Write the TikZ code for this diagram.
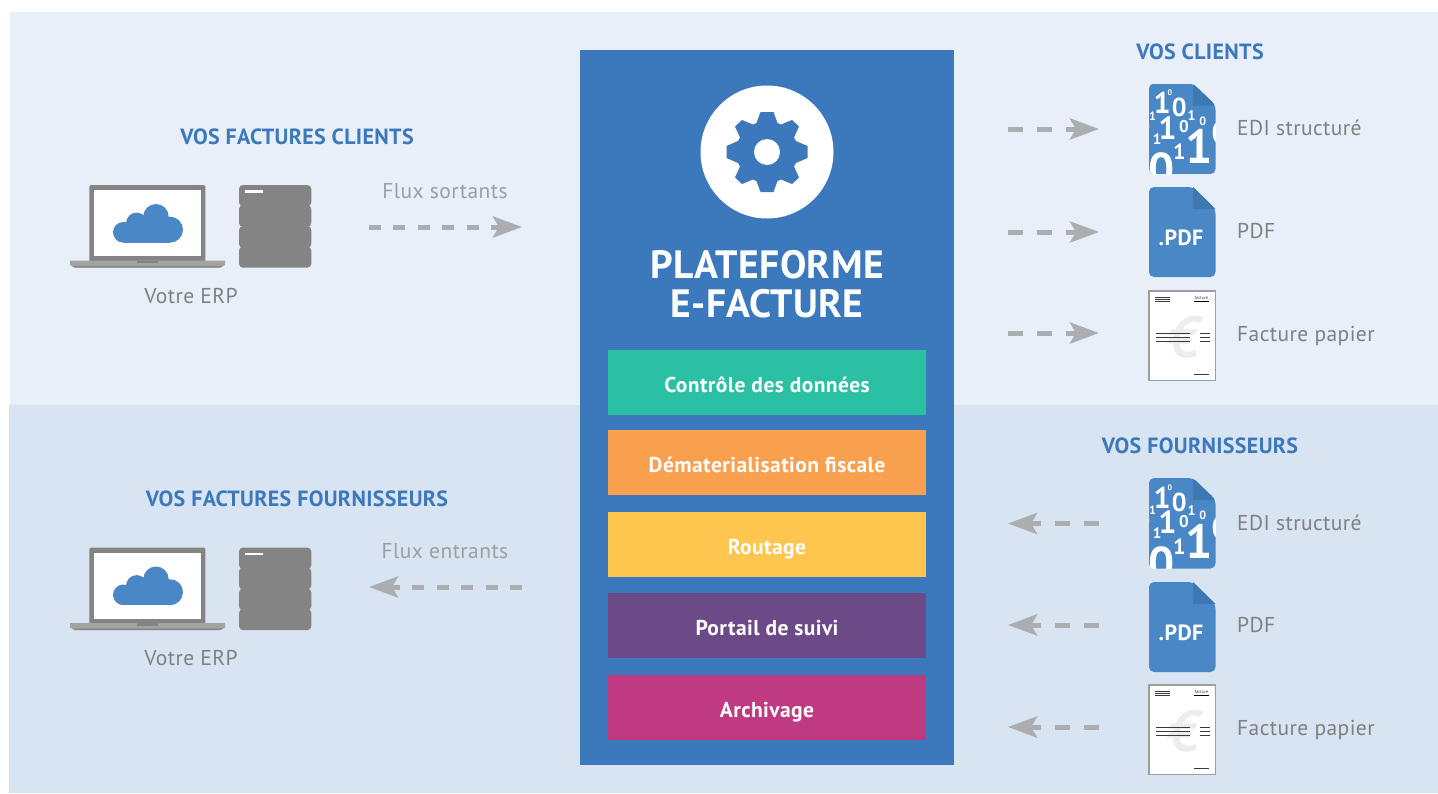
\documentclass[tikz,border=0pt]{standalone}
\usepackage{fontspec}
\setmainfont{PT Sans}
\usetikzlibrary{arrows.meta}
\definecolor{bgtop}{HTML}{E8EFF8}
\definecolor{bgbot}{HTML}{D8E4F2}
\definecolor{plat}{HTML}{3C78BC}
\definecolor{icon}{HTML}{4A87C6}
\definecolor{fold}{HTML}{3D78B2}
\definecolor{head}{HTML}{3C78BC}
\definecolor{lab}{HTML}{7F8080}
\definecolor{flux}{HTML}{9C9EA0}
\definecolor{arrowc}{HTML}{ABADB0}
\definecolor{srv}{HTML}{848484}
\definecolor{lapbase}{HTML}{A3A3A1}
\definecolor{doctxt}{HTML}{3A3A3A}
\definecolor{mteal}{HTML}{2BBFA3}
\definecolor{morange}{HTML}{F9A04F}
\definecolor{myellow}{HTML}{FFC64F}
\definecolor{mpurple}{HTML}{6B4A87}
\definecolor{mmagenta}{HTML}{C03A82}
\tikzset{
 heading/.style={text=head,font=\fontsize{22}{24}\selectfont\bfseries\addfontfeatures{LetterSpace=1.5},inner sep=0pt},
 label/.style={text=lab,font=\fontsize{21.5}{24}\selectfont\addfontfeatures{LetterSpace=2},inner sep=0pt},
 fluxlab/.style={text=flux,font=\fontsize{21.5}{24}\selectfont\addfontfeatures{LetterSpace=2},inner sep=0pt},
 module/.style={minimum width=318pt,minimum height=65pt,inner sep=0pt,text height=19pt,text depth=0pt,text=white,font=\fontsize{21.5}{24}\selectfont\bfseries\addfontfeatures{LetterSpace=2}},
 longflow/.style={draw=arrowc,line width=5pt,dash pattern=on 12pt off 12.4pt,-{Stealth[length=29pt,width=21pt,inset=6pt]}},
 shortflow/.style={draw=arrowc,line width=5pt,dash pattern=on 15pt off 14pt,-{Stealth[length=29pt,width=21pt,inset=6pt]}},
}
\newcommand{\laptopsrv}[2]{%
 \begin{scope}[shift={(#1,#2)}]
  \fill[srv,rounded corners=1.5pt] (29.3,15) rectangle (145.3,92);
  \fill[white] (34,20) rectangle (141,86);
  \fill[lapbase] (10,90.7) -- (165,90.7) -- (165,95) -- (160,97.5) -- (15,97.5) -- (10,95) -- cycle;
  \fill[srv] (76.7,90.7) rectangle (97.7,93);
  \fill[srv!85!lapbase] (11.5,95.8) -- (163.5,95.8) -- (160,97.5) -- (15,97.5) -- cycle;
  \fill[icon] (63.3,62.3) circle (10.3pt) (76.7,53.3) circle (10.7pt) (96,46.7) circle (12.7pt) (110,59.7) circle (13pt);
  \fill[icon] (63.3,52) rectangle (110,72.7);
  \fill[srv,rounded corners=4pt] (179,15) rectangle (251.3,36.5);
  \fill[srv,rounded corners=4pt] (179,35) rectangle (251.3,57);
  \fill[srv,rounded corners=4pt] (179,56) rectangle (251.3,78);
  \fill[srv,rounded corners=4pt] (179,76.5) rectangle (251.3,97.7);
  \fill[white] (185,20) rectangle (202.5,22.5);
 \end{scope}}
\newcommand{\edidoc}[2]{%
 \begin{scope}[shift={(#1,#2)}]
  \begin{scope}
   \clip[rounded corners=5pt] (1149,83.5) -- (1193,83.5) -- (1215.5,105) -- (1215.5,174) -- (1149,174) -- cycle;
   \fill[icon] (1149,83.5) rectangle (1216,174);
   \fill[fold] (1193,83.5) -- (1216,105.5) -- (1193,105.5) -- cycle;
   \foreach \x/\y/\s/\t in {1162/103.3/30/1,1170/93/8/0,1179.3/107.7/26/0,1152.5/116/12/1,1191.7/115.7/14/1,1184/126.7/17/0,1202.7/121/12/0,1167.5/127.7/32/1,1145.5/126.7/16/0,1157/139/15/1,1220/133/30/0,1179.3/151.7/22/1,1199/146.7/48/1,1161.7/169/46/0}
    \node[inner sep=0pt,text=white,font=\fontsize{\s}{\s}\selectfont\bfseries] at (\x,\y) {\t};
  \end{scope}
 \end{scope}}
\newcommand{\pdfdoc}[2]{%
 \begin{scope}[shift={(#1,#2)}]
  \fill[icon,rounded corners=5pt] (1149,187) -- (1193,187) -- (1215.5,209) -- (1215.5,277) -- (1149,277) -- cycle;
  \fill[fold] (1193,187) -- (1215.5,209) -- (1193,209) -- cycle;
  \node[inner sep=0pt,text=white,font=\fontsize{22}{22}\selectfont\bfseries\addfontfeatures{LetterSpace=2}] at (1181,237.5) {.PDF};
 \end{scope}}
\newcommand{\paperdoc}[2]{%
 \begin{scope}[shift={(#1,#2)}]
  \filldraw[fill=white,draw=flux,line width=1.2pt] (1149,291) rectangle (1215.3,380.5);
  \node[inner sep=0pt,text=black!7,font=\fontsize{58}{58}\selectfont\bfseries\itshape] at (1183.5,337.5) {€};
  \draw[doctxt,line width=.8pt]
    (1155,297.3) -- (1170,297.3) (1155,299.3) -- (1170,299.3) (1155,301.3) -- (1170,301.3)
    (1156,333.3) -- (1190,333.3) (1156,337.3) -- (1190,337.3) (1156,341.3) -- (1190,341.3)
    (1200,333.3) -- (1210,333.3) (1200,337.3) -- (1210,337.3) (1200,341.3) -- (1210,341.3)
    (1194,374) -- (1209,374);
  \draw[black,line width=.8pt] (1194,301.3) -- (1209,301.3);
  \node[inner sep=0pt,text=doctxt,font=\fontsize{4.5}{5}\selectfont] at (1201.5,298) {facture};
 \end{scope}}
\begin{document}
\begin{tikzpicture}[x=1pt,y=-1pt]
\useasboundingbox (0,0) rectangle (1438,793);
\fill[white] (0,0) rectangle (1438,793);
\fill[bgtop] (10,12) rectangle (1438,405);
\fill[bgbot] (9,405) rectangle (1438,793);
% platform
\node[fill=plat,minimum width=374pt,minimum height=715pt,inner sep=0pt] (platform) at (767,407.5) {};
\fill[white] (767,152) circle (66.5pt);
\begin{scope}[shift={(767,152)}]
 \fill[plat] (-6.5,-40) -- (6.5,-40) -- (10.5,-29) -- (14,-27.5) -- (25,-32) -- (32,-25.5) -- (27,-14.5) -- (29,-11) -- (40.5,-6) -- (40.5,6) -- (29,11) -- (27,14.5) -- (32,25.5) -- (25,32) -- (14,27.5) -- (10.5,29) -- (6.5,40) -- (-6.5,40) -- (-10.5,29) -- (-14,27.5) -- (-25,32) -- (-32,25.5) -- (-27,14.5) -- (-29,11) -- (-40.5,6) -- (-40.5,-6) -- (-29,-11) -- (-27,-14.5) -- (-32,-25.5) -- (-25,-32) -- (-14,-27.5) -- (-10.5,-29) -- cycle;
 \fill[white] (0,0) circle (13pt);
\end{scope}
\node[inner sep=0pt,text=white,align=center,font=\fontsize{39.5}{38.5}\selectfont\bfseries\addfontfeatures{LetterSpace=1}] (title) at (767,284) {PLATEFORME\\E-FACTURE};
\node[module,fill=mteal] (m1) at (767,382.5) {Contrôle des données};
\node[module,fill=morange] (m2) at (767,462.5) {Dématerialisation fiscale};
\node[module,fill=myellow] (m3) at (767,544.5) {Routage};
\node[module,fill=mpurple] (m4) at (767,625.5) {Portail de suivi};
\node[module,fill=mmagenta] (m5) at (767,707.5) {Archivage};
% left
\laptopsrv{60}{170}
\laptopsrv{60}{532.5}
\node[heading] (h1) at (297,137) {VOS FACTURES CLIENTS};
\node[heading] (h2) at (297,499) {VOS FACTURES FOURNISSEURS};
\node[label] (erp1) at (191,296) {Votre ERP};
\node[label] (erp2) at (191,658) {Votre ERP};
\node[fluxlab] (fs) at (445,191) {Flux sortants};
\node[fluxlab] (fe) at (445,551) {Flux entrants};
\coordinate (fsa) at (369,227);
\coordinate (fsb) at (522,227);
\coordinate (fea) at (522,587);
\coordinate (feb) at (369,587);
\draw[longflow] (fsa) -- (fsb);
\draw[longflow] (fea) -- (feb);
% right top
\node[heading] (h3) at (1200,52) {VOS CLIENTS};
\edidoc{0}{0}
\pdfdoc{0}{0}
\paperdoc{0}{0}
\node[label,anchor=west] (t1) at (1237,128) {EDI structuré};
\node[label,anchor=west] (t2) at (1237,231) {PDF};
\node[label,anchor=west] (t3) at (1237,336) {Facture papier};
\coordinate (a1) at (1008,129); \coordinate (b1) at (1099,129);
\coordinate (a2) at (1008,232); \coordinate (b2) at (1099,232);
\coordinate (a3) at (1008,333); \coordinate (b3) at (1099,333);
\draw[shortflow] (a1) -- (b1);
\draw[shortflow] (a2) -- (b2);
\draw[shortflow] (a3) -- (b3);
% right bottom
\node[heading] (h4) at (1200,446) {VOS FOURNISSEURS};
\edidoc{0}{394.5}
\pdfdoc{0}{395}
\paperdoc{0}{394}
\node[label,anchor=west] (t4) at (1237,523) {EDI structuré};
\node[label,anchor=west] (t5) at (1237,625) {PDF};
\node[label,anchor=west] (t6) at (1237,730) {Facture papier};
\coordinate (c1) at (1099,523.5); \coordinate (d1) at (1008,523.5);
\coordinate (c2) at (1099,625); \coordinate (d2) at (1008,625);
\coordinate (c3) at (1099,727); \coordinate (d3) at (1008,727);
\draw[shortflow] (c1) -- (d1);
\draw[shortflow] (c2) -- (d2);
\draw[shortflow] (c3) -- (d3);
\end{tikzpicture}
\end{document}
